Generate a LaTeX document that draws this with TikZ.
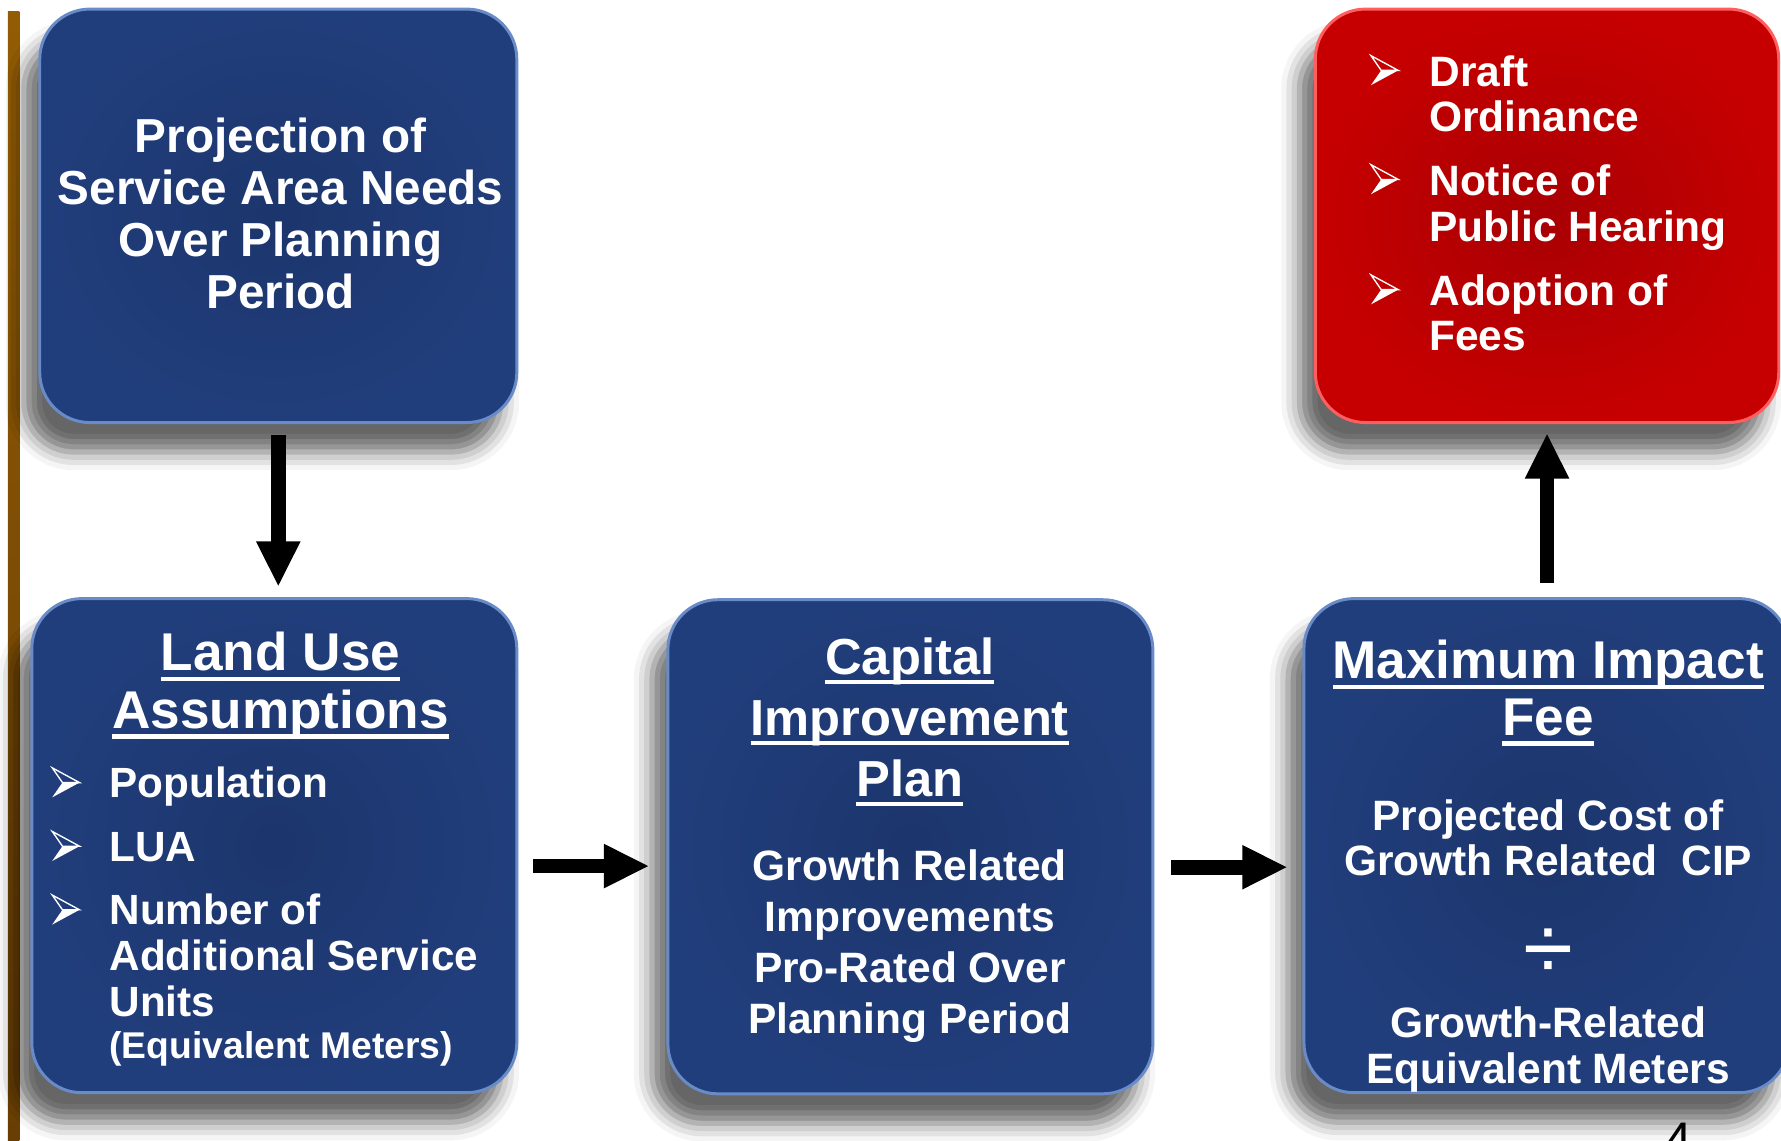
\documentclass[tikz,border=0pt]{standalone}
\usepackage{fontspec}
\setmainfont{Liberation Sans}
\usetikzlibrary{arrows.meta,shadows.blur,calc}
\definecolor{navy}{RGB}{33,62,124}
\definecolor{navyin}{RGB}{28,53,108}
\definecolor{navyrim}{RGB}{105,140,200}
\definecolor{redbox}{RGB}{198,0,0}
\definecolor{redin}{RGB}{168,0,4}
\definecolor{redrim}{RGB}{255,95,95}
\definecolor{browntop}{RGB}{146,92,4}
\definecolor{brownbot}{RGB}{104,62,4}
\newsavebox\ulbox
\newcommand\myul[1]{\sbox\ulbox{#1}\rlap{\rule[-0.19em]{\wd\ulbox}{0.08em}}\usebox\ulbox}
\begin{document}
\begin{tikzpicture}[x=0.5pt,y=-0.5pt,
  panel/.style={rounded corners=22pt, inner sep=0pt, line width=1.3pt,
    blur shadow={shadow xshift=-7pt, shadow yshift=-13pt, shadow blur radius=8pt, shadow opacity=60}},
  bluepanel/.style={panel, draw=navyrim, inner color=navyin, outer color=navy},
  redpanel/.style={panel, draw=redrim, inner color=redin, outer color=redbox},
  wtxt/.style={text=white, inner sep=0pt},
  titlefont/.style={font=\bfseries\fontsize{23.4}{#1}\selectfont},
  bodyfont/.style={font=\bfseries\fontsize{18.7}{#1}\selectfont},
  blockarrow/.style={line width=6.5pt, -{Triangle[length=20pt,width=18pt]}},
  bullet/.pic={\draw[white,line width=0.6pt,line join=miter] (-12,-13) -- (12,0) -- (-3,0) -- cycle;
               \fill[white] (-3,0) -- (12,0) -- (-12,13) -- cycle;}
]
\useasboundingbox (0,0) rectangle (1568,1004);
\clip (0,0) rectangle (1568,1004);

% side bar
\shade[top color=browntop, bottom color=brownbot] (7,10) rectangle (17,1004);

% panels
\node[bluepanel, minimum width=210pt, minimum height=182pt] (b1) at (245,190) {};
\node[bluepanel, minimum width=213.5pt, minimum height=217.5pt] (b2) at (241.5,744.5) {};
\node[bluepanel, minimum width=213.5pt, minimum height=217.5pt] (b3) at (801.5,745.5) {};
\node[bluepanel, minimum width=213.5pt, minimum height=217.5pt] (b4) at (1361.5,744.5) {};
\node[redpanel, minimum width=204pt, minimum height=182pt] (r1) at (1362,190) {};

% arrows
\draw[blockarrow, shorten <=5pt, shorten >=4.5pt] (b1.south) -- (b1.south |- b2.north);
\draw[blockarrow, shorten <=6.5pt, shorten >=7.5pt] ([yshift=-9pt]b2.east) -- ([yshift=-9pt]b2.east -| b3.west);
\draw[blockarrow, shorten <=7.5pt, shorten >=6.5pt] ([yshift=-9pt]b3.east) -- ([yshift=-9pt]b3.east -| b4.west);
\draw[blockarrow, shorten <=6pt, shorten >=4pt] (r1.south |- b4.north) -- (r1.south);

% box 1
\node[wtxt, anchor=north, align=center, font=\bfseries\fontsize{21}{22.8}\selectfont] (t1) at (247,102.5)
  {\rule{0pt}{0.75em}Projection of\\Service Area Needs\\Over Planning\\Period};

% box 2
\node[wtxt, anchor=north, align=center, titlefont=25.5] (t2) at (247,555)
  {\rule{0pt}{0.75em}\myul{Land Use}\\\myul{Assumptions}};
\node[wtxt, anchor=north west, align=left, font=\bfseries\fontsize{18.6}{20.25}\selectfont] (t2b) at (96,674)
  {\rule{0pt}{0.75em}Population\\[7.75pt]LUA\\[7.75pt]Number of\\Additional Service\\Units\\[-1.75pt]{\fontsize{16.4}{18}\selectfont(Equivalent Meters)}};
\pic at (58,689) {bullet};
\pic at (58,745) {bullet};
\pic at (58,801) {bullet};

% box 3
\node[wtxt, anchor=north, align=center, font=\bfseries\fontsize{22.3}{26.75}\selectfont] (t3) at (801,560)
  {\rule{0pt}{0.75em}\myul{Capital}\\\myul{Improvement}\\\myul{Plan}};
\node[wtxt, anchor=north, align=center, bodyfont=22.5] (t3b) at (801,746.4)
  {\rule{0pt}{0.75em}Growth Related\\Improvements\\Pro-Rated Over\\Planning Period};

% box 4
\node[wtxt, anchor=north, align=center, titlefont=25] (t4) at (1363,562)
  {\rule{0pt}{0.75em}\myul{Maximum Impact}\\\myul{Fee}};
\node[wtxt, anchor=north, align=center, bodyfont=20] (t4b) at (1363,702.4)
  {\rule{0pt}{0.75em}Projected Cost of\\Growth Related\ \ CIP};
\node[wtxt, anchor=base, font=\fontsize{40}{40}\selectfont] (div) at (1363,862) {÷};
\node[wtxt, anchor=north, align=center, bodyfont=20] (t4c) at (1363,885.4)
  {\rule{0pt}{0.75em}Growth-Related\\Equivalent Meters};

% red box
\node[wtxt, anchor=north west, align=left, bodyfont=19.9] (tr) at (1258,47.4)
  {\rule{0pt}{0.75em}Draft\\Ordinance\\[8.5pt]Notice of\\Public Hearing\\[8.5pt]Adoption of\\Fees};
\pic at (1219,62) {bullet};
\pic at (1219,158) {bullet};
\pic at (1219,255) {bullet};

% page number (cut off)
\node[anchor=north, inner sep=0pt, font=\fontsize{22}{22}\selectfont] (pg) at (1478,988) {4};
\end{tikzpicture}
\end{document}
